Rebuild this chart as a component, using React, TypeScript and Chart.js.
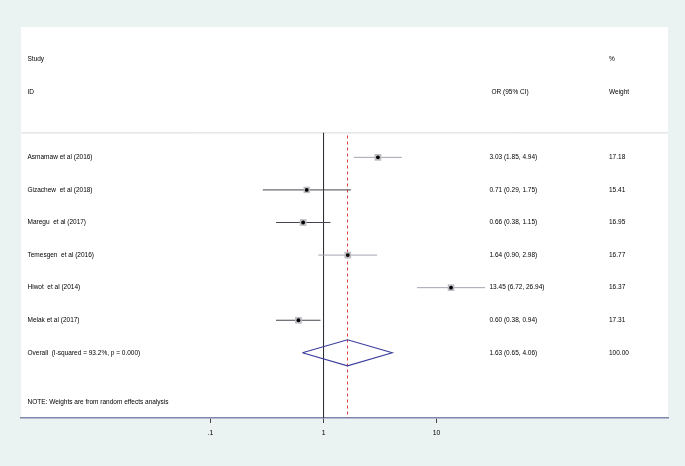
import React, { useEffect, useRef } from "react";
import { Chart, registerables } from "chart.js";

Chart.register(...registerables);

// ---- data ----
const studies = [
  "Asmamaw et al (2016)",
  "Gizachew  et al (2018)",
  "Maregu  et al (2017)",
  "Temesgen  et al (2016)",
  "Hiwot  et al (2014)",
  "Melak et al (2017)",
];
const orEst = [3.03, 0.71, 0.66, 1.64, 13.45, 0.6];
const ciLow = [1.85, 0.29, 0.38, 0.9, 6.72, 0.38];
const ciHigh = [4.94, 1.75, 1.15, 2.98, 26.94, 0.94];
const weights = [17.18, 15.41, 16.95, 16.77, 16.37, 17.31];

const overallLabel = "Overall  (I-squared = 93.2%, p = 0.000)";
const overallEst = [1.63];
const overallLow = [0.65];
const overallHigh = [4.06];
const overallWeight = [100.0];

const noteText = "NOTE: Weights are from random effects analysis";
const xTicks = [0.1, 1, 10];
const xTickLabels = [".1", "1", "10"];

// ---- styles ----
const ciColors = ["#a3a5b0", "#45454e", "#45454e", "#a3a5b0", "#a3a5b0", "#45454e"];
const FONT = "'Liberation Sans', Arial, sans-serif";

const X_MIN = 0.0021;
const X_MAX = 1120;
const Y_MIN = -4;
const Y_MAX = 8;
const SEP_Y = -0.75;
const HDR1_Y = -3;
const HDR2_Y = -2;
const NOTE_Y = 7.5;
const DIAMOND_H = 0.4;

const fmt = (v: number) => v.toFixed(2);

const textPlugin = {
  id: "forestText",
  beforeDraw(chart: any) {
    const { ctx, chartArea } = chart;
    ctx.save();
    ctx.fillStyle = "#eaf2f2";
    ctx.fillRect(0, 0, chart.width, chart.height);
    ctx.fillStyle = "#ffffff";
    ctx.fillRect(chartArea.left, chartArea.top, chartArea.right - chartArea.left, chartArea.bottom - chartArea.top);
    ctx.restore();
  },
  afterDatasetsDraw(chart: any) {
    const { ctx, chartArea } = chart;
    const y = chart.scales.y;
    const colName = chartArea.left + 6.5;
    const colOR = chartArea.left + 468.5;
    const colW = chartArea.left + 588;
    ctx.save();
    ctx.fillStyle = "#000";
    ctx.font = `6.5px ${FONT}`;
    ctx.textBaseline = "middle";
    ctx.textAlign = "left";
    const put = (t: string, x: number, v: number) => ctx.fillText(t, x, y.getPixelForValue(v));
    put("Study", colName, HDR1_Y);
    put("ID", colName, HDR2_Y);
    put("OR (95% CI)", colOR + 2, HDR2_Y);
    put("%", colW, HDR1_Y);
    put("Weight", colW, HDR2_Y);
    studies.forEach((s, i) => {
      put(s, colName, i);
      put(`${fmt(orEst[i])} (${fmt(ciLow[i])}, ${fmt(ciHigh[i])})`, colOR, i);
      put(fmt(weights[i]), colW, i);
    });
    const oi = studies.length;
    put(overallLabel, colName, oi);
    put(`${fmt(overallEst[0])} (${fmt(overallLow[0])}, ${fmt(overallHigh[0])})`, colOR, oi);
    put(fmt(overallWeight[0]), colW, oi);
    put(noteText, colName, NOTE_Y);
    ctx.restore();
  },
};

export default function App() {
  const ref = useRef<HTMLCanvasElement | null>(null);
  useEffect(() => {
    if (!ref.current) return;
    const maxW = Math.max(...weights);
    const datasets: any[] = [];
    // separator line
    datasets.push({
      data: [{ x: X_MIN, y: SEP_Y }, { x: X_MAX, y: SEP_Y }],
      showLine: true,
      borderColor: "#d5d9dc",
      borderWidth: 1,
      pointRadius: 0,
      order: 5,
    });
    // null line
    datasets.push({
      data: [{ x: 1, y: SEP_Y }, { x: 1, y: Y_MAX }],
      showLine: true,
      borderColor: "#2e2e34",
      borderWidth: 1,
      pointRadius: 0,
      order: 4,
    });
    // overall effect dashed line
    datasets.push({
      data: [{ x: overallEst[0], y: SEP_Y + 0.08 }, { x: overallEst[0], y: Y_MAX }],
      showLine: true,
      borderColor: "#dc3c3c",
      borderWidth: 1,
      borderDash: [3, 3],
      pointRadius: 0,
      order: 4,
    });
    // CI lines
    studies.forEach((_, i) => {
      datasets.push({
        data: [{ x: ciLow[i], y: i }, { x: ciHigh[i], y: i }],
        showLine: true,
        borderColor: ciColors[i],
        borderWidth: 1,
        pointRadius: 0,
        order: 3,
      });
    });
    // weight boxes
    datasets.push({
      data: orEst.map((v, i) => ({ x: v, y: i })),
      pointStyle: "rect",
      pointRadius: weights.map((w) => 4.8 * Math.sqrt(w / maxW)),
      backgroundColor: "#bdbdc2",
      borderWidth: 0,
      showLine: false,
      order: 2,
    });
    // point estimates
    datasets.push({
      data: orEst.map((v, i) => ({ x: v, y: i })),
      pointStyle: "circle",
      pointRadius: 1.9,
      backgroundColor: "#000",
      borderColor: "#000",
      borderWidth: 0,
      showLine: false,
      order: 1,
    });
    // overall diamond
    const oi = studies.length;
    datasets.push({
      data: [
        { x: overallLow[0], y: oi },
        { x: overallEst[0], y: oi - DIAMOND_H },
        { x: overallHigh[0], y: oi },
        { x: overallEst[0], y: oi + DIAMOND_H },
        { x: overallLow[0], y: oi },
      ],
      showLine: true,
      borderColor: "#3a3c9c",
      borderWidth: 1.1,
      pointRadius: 0,
      fill: false,
      tension: 0,
      order: 0,
    });

    const chart = new Chart(ref.current, {
      type: "scatter",
      data: { datasets },
      options: {
        animation: false,
        responsive: false,
        devicePixelRatio: 1,
        events: [],
        layout: { padding: { left: 21, right: 17, top: 27, bottom: 0 } },
        plugins: { legend: { display: false }, tooltip: { enabled: false } },
        scales: {
          x: {
            type: "logarithmic",
            min: X_MIN,
            max: X_MAX,
            afterBuildTicks: (s: any) => {
              s.ticks = xTicks.map((v) => ({ value: v }));
            },
            afterFit: (s: any) => {
              s.height = 48;
            },
            ticks: {
              autoSkip: false,
              maxRotation: 0,
              padding: 6,
              color: "#000",
              font: { family: FONT, size: 6.8 },
              callback: (v: any) => {
                const idx = xTicks.indexOf(Number(v));
                return idx >= 0 ? xTickLabels[idx] : "";
              },
            },
            grid: {
              display: true,
              drawOnChartArea: false,
              drawTicks: true,
              tickLength: 5,
              color: "#444",
              lineWidth: 1,
            },
            border: { display: true, color: "#7f87ad", width: 1.5 },
          },
          y: {
            type: "linear",
            reverse: true,
            min: Y_MIN,
            max: Y_MAX,
            display: false,
          },
        },
      },
      plugins: [textPlugin],
    });
    return () => chart.destroy();
  }, []);

  return (
    <div style={{ position: "absolute", left: 0, top: 0, width: 685, height: 466, background: "#eaf2f2" }}>
      <canvas ref={ref} width={685} height={466} style={{ display: "block" }} />
    </div>
  );
}
